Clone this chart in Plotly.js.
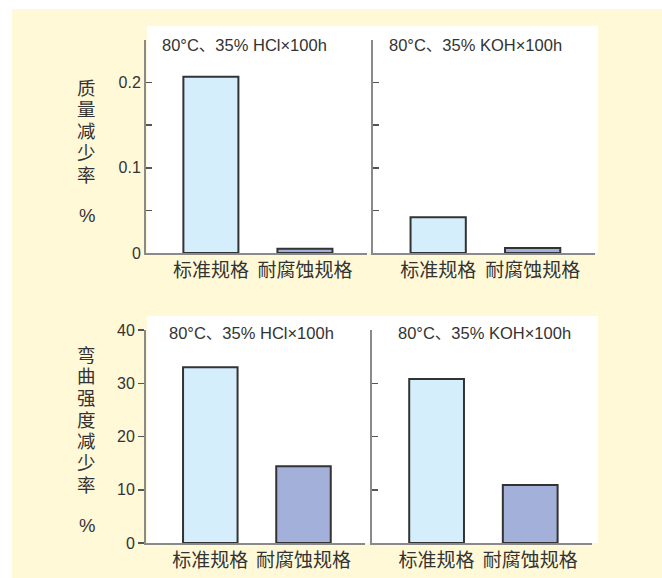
<!DOCTYPE html>
<html>
<head>
<meta charset="utf-8">
<script src="https://cdn.plot.ly/plotly-3.0.1.min.js"></script>
<style>html,body{margin:0;padding:0;background:#fff;}#chart{width:662px;height:578px;}</style>
</head>
<body>
<div id="chart"></div>
<script>
// ---- data ----
const categories = ['标准规格', '耐腐蚀规格'];
const massLossHCl = [0.207, 0.005];   // 质量减少率 %, 80°C 35% HCl ×100h
const massLossKOH = [0.042, 0.006];   // 质量减少率 %, 80°C 35% KOH ×100h
const flexLossHCl = [33.0, 14.4];     // 弯曲强度减少率 %, HCl
const flexLossKOH = [30.8, 10.9];     // 弯曲强度减少率 %, KOH
const panelTitles = ['80°C、35% HCl×100h', '80°C、35% KOH×100h', '80°C、35% HCl×100h', '80°C、35% KOH×100h'];
const massTickVals = [0, 0.05, 0.1, 0.15, 0.2];
const massTickText = ['0', '', '0.1', '', '0.2'];
const flexTickVals = [0, 10, 20, 30, 40];
const flexTickText = ['0', '10', '20', '30', '40'];
const massTitle = '质量减少率';
const flexTitle = '弯曲强度减少率';
const unitText = '%';

// ---- style ----
const W = 662, H = 578;
const px = v => v / W;
const py = v => 1 - v / H;
const FONT = 'Liberation Sans, Arial, "Noto Sans CJK SC", sans-serif';
const TXT = '#333333';
const barColors = ['#d5eefc', '#a3b0da'];
const xr = [-0.69, 1.66];

function barTrace(vals, xa, ya) {
  return {
    type: 'bar', x: categories, y: vals, xaxis: xa, yaxis: ya,
    width: 0.585,
    marker: {color: barColors, line: {color: '#333333', width: 2}},
    hoverinfo: 'skip', showlegend: false
  };
}

const data = [
  barTrace(massLossHCl, 'x', 'y'),
  barTrace(massLossKOH, 'x2', 'y2'),
  barTrace(flexLossHCl, 'x3', 'y3'),
  barTrace(flexLossKOH, 'x4', 'y4')
];

function xAxis(d, anchor) {
  return {
    domain: d, anchor: anchor, range: xr, type: 'category',
    showline: true, linecolor: '#8a8a8a', linewidth: 1.5,
    ticks: '', showgrid: false, zeroline: false, fixedrange: true,
    tickfont: {family: FONT, size: 19, color: TXT}, ticklabelstandoff: 0
  };
}
function yAxis(d, anchor, range, vals, text, showLabels, tickDir) {
  return {
    domain: d, anchor: anchor, range: range,
    showline: true, linecolor: '#8a8a8a', linewidth: 2,
    ticks: tickDir, ticklen: 6, tickwidth: 1.5, tickcolor: '#555555',
    tickvals: vals, ticktext: text, showticklabels: showLabels,
    showgrid: false, zeroline: false, fixedrange: true,
    tickfont: {family: FONT, size: 16, color: TXT}
  };
}

const topY = [py(253), py(40)];
const botY = [py(543), py(330)];

// vertical (stacked) axis titles, one character per line
function verticalTitle(str, cx, yFirst, step) {
  return Array.from(str).map((ch, i) => ({
    text: ch, x: px(cx), y: py(yFirst + i * step), xref: 'paper', yref: 'paper',
    xanchor: 'center', yanchor: 'middle', showarrow: false,
    font: {family: FONT, size: 18.5, color: TXT}
  }));
}

const layout = {
  width: W, height: H,
  margin: {l: 0, r: 0, t: 0, b: 0, pad: 0},
  paper_bgcolor: '#ffffff', plot_bgcolor: 'rgba(0,0,0,0)',
  font: {family: FONT, color: TXT},
  bargap: 0,
  xaxis: xAxis([px(146), px(367)], 'y'),
  yaxis: yAxis(topY, 'x', [0, 0.25], massTickVals, massTickText, true, 'inside'),
  xaxis2: xAxis([px(373), px(595)], 'y2'),
  yaxis2: yAxis(topY, 'x2', [0, 0.25], massTickVals.slice(1), massTickText.slice(1), false, 'inside'),
  xaxis3: xAxis([px(146), px(365)], 'y3'),
  yaxis3: yAxis(botY, 'x3', [0, 40], flexTickVals, flexTickText, true, 'outside'),
  xaxis4: xAxis([px(372), px(592)], 'y4'),
  yaxis4: yAxis(botY, 'x4', [0, 40], flexTickVals.slice(1), flexTickText.slice(1), false, 'inside'),
  shapes: [
    {type: 'rect', xref: 'paper', yref: 'paper', x0: px(12), x1: 1, y0: 0, y1: py(9),
     fillcolor: '#fff9d8', line: {width: 0}, layer: 'below'},
    {type: 'rect', xref: 'paper', yref: 'paper', x0: px(147), x1: px(598), y0: py(253), y1: py(26),
     fillcolor: '#ffffff', line: {width: 0}, layer: 'below'},
    {type: 'rect', xref: 'paper', yref: 'paper', x0: px(147), x1: px(598), y0: py(543), y1: py(316),
     fillcolor: '#ffffff', line: {width: 0}, layer: 'below'}
  ],
  annotations: [
    {text: panelTitles[0], x: px(160), y: py(45)},
    {text: panelTitles[1], x: px(387), y: py(45)},
    {text: panelTitles[2], x: px(167), y: py(333)},
    {text: panelTitles[3], x: px(396), y: py(333)}
  ].map(a => Object.assign(a, {xref: 'paper', yref: 'paper', xanchor: 'left', yanchor: 'middle',
     showarrow: false, font: {family: FONT, size: 16.5, color: TXT}}))
   .concat(verticalTitle(massTitle, 87, 88, 21.8))
   .concat(verticalTitle(unitText, 87, 216, 0))
   .concat(verticalTitle(flexTitle, 87, 355, 21.7))
   .concat(verticalTitle(unitText, 87, 525, 0))
};

Plotly.newPlot('chart', data, layout, {displayModeBar: false, staticPlot: true});
</script>
</body>
</html>
